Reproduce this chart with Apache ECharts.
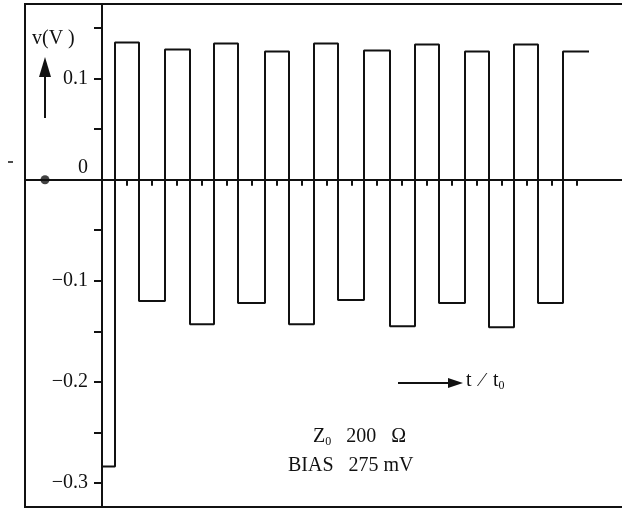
<!DOCTYPE html>
<html>
<head>
<meta charset="utf-8">
<script src="https://cdn.jsdelivr.net/npm/echarts@6/dist/echarts.min.js"></script>
<style>
html,body{margin:0;padding:0;background:#fff;}
#chart{width:622px;height:512px;}
</style>
</head>
<body>
<div id="chart"></div>
<script>
// transition times (t, in units of tick spacing) and levels (V) between them
const edges = [0, 0.52, 1.48, 2.52, 3.52, 4.48, 5.44, 6.52, 7.48, 8.48, 9.44, 10.48, 11.52, 12.52, 13.48, 14.52, 15.48, 16.48, 17.44, 18.44, 19.48];
const levels = [-0.284, 0.136, -0.120, 0.129, -0.143, 0.135, -0.122, 0.127, -0.143, 0.135, -0.119, 0.128, -0.145, 0.134, -0.122, 0.127, -0.146, 0.134, -0.122, 0.127];
const xTicks = [1, 2, 3, 4, 5, 6, 7, 8, 9, 10, 11, 12, 13, 14, 15, 16, 17, 18, 19];
const yTicks = [0.15, 0.1, 0.05, 0, -0.05, -0.1, -0.15, -0.2, -0.25, -0.3];
const yLabels = [0.1, 0, -0.1, -0.2, -0.3];
const dotPoint = [[-2.28, 0]];
const X_MIN = -3.08, X_MAX = 20.96;
const Y_MIN = -0.324, Y_MAX = 0.174;

const pts = [[edges[0], 0]];
for (let i = 0; i < levels.length; i++) {
  pts.push([edges[i], levels[i]]);
  pts.push([edges[i + 1], levels[i]]);
}

const INK = '#111';
const FONT = "'Liberation Serif', 'DejaVu Serif', serif";

const chart = echarts.init(document.getElementById('chart'));
chart.setOption({
  animation: false,
  backgroundColor: '#fff',
  grid: {
    left: 25, right: -4, top: 4, bottom: 5,
    containLabel: false, outerBoundsMode: 'none',
    show: true, borderColor: INK, borderWidth: 2, backgroundColor: 'transparent'
  },
  xAxis: {
    type: 'value', min: X_MIN, max: X_MAX,
    axisLine: { show: true, onZero: true, lineStyle: { color: INK, width: 2 } },
    axisTick: { show: true, customValues: xTicks, length: 6, inside: false, lineStyle: { color: INK, width: 2 } },
    axisLabel: { show: false },
    splitLine: { show: false }
  },
  yAxis: {
    type: 'value', min: Y_MIN, max: Y_MAX, position: 'left', offset: -77,
    axisLine: { show: true, onZero: false, lineStyle: { color: INK, width: 2 } },
    axisTick: { show: true, customValues: yTicks, length: 8, lineStyle: { color: INK, width: 2 } },
    axisLabel: {
      show: true, customValues: yLabels, margin: 14,
      color: INK, fontFamily: FONT, fontSize: 20,
      formatter: function (v) {
        if (Math.abs(v) < 1e-9) return '{z|0}';
        return (v < 0 ? '\u2212' : '') + Math.abs(v).toFixed(1);
      },
      rich: { z: { fontFamily: FONT, fontSize: 20, color: INK, padding: [0, 0, 24, 0] } }
    },
    splitLine: { show: false }
  },
  series: [
    {
      type: 'line', data: pts, showSymbol: false, symbol: 'none',
      lineStyle: { color: INK, width: 2 }, z: 3
    },
    {
      type: 'scatter', data: dotPoint, symbolSize: 9,
      itemStyle: { color: INK }, z: 4
    }
  ],
  graphic: [
    { type: 'text', left: 32, top: 29, style: { text: 'v(V )', font: '20px ' + FONT, fill: INK } },
    { type: 'line', shape: { x1: 45, y1: 118, x2: 45, y2: 72 }, style: { stroke: INK, lineWidth: 2 } },
    { type: 'polygon', shape: { points: [[45, 57], [39, 77], [51, 77]] }, style: { fill: INK } },
    { type: 'line', shape: { x1: 8, y1: 162, x2: 13, y2: 162 }, style: { stroke: INK, lineWidth: 1.5 } },
    { type: 'line', shape: { x1: 398, y1: 383, x2: 452, y2: 383 }, style: { stroke: INK, lineWidth: 2 } },
    { type: 'polygon', shape: { points: [[463, 383], [448, 378], [448, 388]] }, style: { fill: INK } },
    {
      type: 'text', left: 466, top: 371,
      style: {
        text: 't \u2009\u2215\u2009 t{s|0}', font: '20px ' + FONT, fill: INK,
        rich: { s: { fontSize: 12, fontFamily: FONT, fill: INK, padding: [9, 0, 0, 0] } }
      }
    },
    {
      type: 'text', left: 313, top: 427,
      style: {
        text: 'Z{s|0}   200   \u03a9', font: '20px ' + FONT, fill: INK,
        rich: { s: { fontSize: 12, fontFamily: FONT, fill: INK, padding: [9, 0, 0, 0] } }
      }
    },
    { type: 'text', left: 288, top: 456, style: { text: 'BIAS   275 mV', font: '20px ' + FONT, fill: INK } }
  ]
});
</script>
</body>
</html>
